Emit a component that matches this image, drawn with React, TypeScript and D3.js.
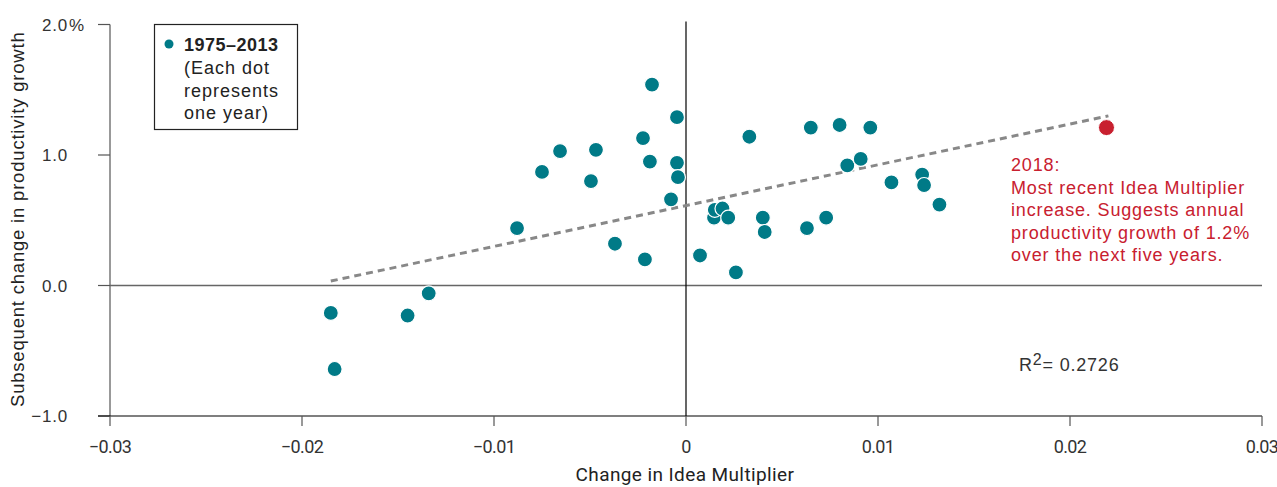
import React from 'react';
import * as d3 from 'd3';

// each dot = one year, 1975–2013
const ideaChange = [
  -0.0185, -0.0183, -0.0145, -0.0134, -0.0088, -0.0075, -0.00656, -0.00495, -0.00469, -0.0037,
  -0.00224, -0.00214, -0.00188, -0.00177, -0.00078, -0.00047, -0.00042, -0.00047, 0.00073, 0.00146,
  0.0015, 0.0019, 0.0022, 0.0026, 0.0033, 0.004, 0.0041, 0.0063, 0.0065, 0.0073,
  0.008, 0.0084, 0.0091, 0.0096, 0.0107, 0.0123, 0.0124, 0.0132,
];
const growthChange = [
  -0.21, -0.64, -0.23, -0.06, 0.44, 0.87, 1.03, 0.8, 1.04, 0.32,
  1.13, 0.2, 0.95, 1.54, 0.66, 0.94, 0.83, 1.29, 0.23, 0.52,
  0.58, 0.59, 0.52, 0.1, 1.14, 0.52, 0.41, 0.44, 1.21, 0.52,
  1.23, 0.92, 0.97, 1.21, 0.79, 0.85, 0.77, 0.62,
];
const latest = { x: 0.0219, y: 1.21 }; // 2018
const trendLine = [
  { x: -0.0185, y: 0.034 },
  { x: 0.022, y: 1.3 },
];

const xTicks = [-0.03, -0.02, -0.01, 0, 0.01, 0.02, 0.03];
const xTickLabels = ['\u22120.03', '\u22120.02', '\u22120.01', '0', '0.01', '0.02', '0.03'];
const yTicks = [2, 1, 0, -1];
const yTickLabels = ['2.0', '1.0', '0.0', '\u22121.0'];

const noteLines = [
  '2018:',
  'Most recent Idea Multiplier',
  'increase. Suggests annual',
  'productivity growth of 1.2%',
  'over the next five years.',
];
const legendLines = ['(Each dot', 'represents', 'one year)'];

const TEAL = '#007a87';
const RED = '#c8202f';
const FONT = '"Liberation Sans", Arial, sans-serif';
const COND = 'Roboto, sans-serif';

export default function App() {
  const width = 1277;
  const height = 487;
  const x = d3.scaleLinear().domain([-0.03, 0.03]).range([110, 1262]);
  const y = d3.scaleLinear().domain([-1, 2]).range([416, 24.5]);

  const points = ideaChange.map((v, i) => ({ x: v, y: growthChange[i] }));
  const line = d3
    .line<{ x: number; y: number }>()
    .x(d => x(d.x))
    .y(d => y(d.y));

  return (
    <svg width={width} height={height} style={{ position: 'absolute', left: 0, top: 0 }} fontFamily={FONT}>
      <rect width={width} height={height} fill="#fff" />

      {/* y axis */}
      <line x1={x(-0.03)} x2={x(-0.03)} y1={y(2)} y2={y(-1)} stroke="#777" strokeWidth={1.5} />
      {yTicks.map((t, i) => (
        <g key={t}>
          <line x1={x(-0.03) - 12} x2={x(-0.03)} y1={y(t)} y2={y(t)} stroke="#555" strokeWidth={1.2} />
          <text x={68} y={y(t) + 6} textAnchor="end" fontSize={17} fill="#333" letterSpacing={0.8}>
            {yTickLabels[i]}
          </text>
          {i === 0 && (
            <text x={69} y={y(t) + 6} fontSize={17} fill="#333">
              %
            </text>
          )}
        </g>
      ))}

      {/* zero lines */}
      <line x1={x(-0.03)} x2={x(0.03)} y1={y(0)} y2={y(0)} stroke="#666" strokeWidth={1.5} />
      <line x1={x(0)} x2={x(0)} y1={y(2) - 3} y2={y(-1)} stroke="#000" strokeWidth={1.2} />

      {/* x axis */}
      <line x1={x(-0.03) - 12} x2={x(0.03)} y1={y(-1)} y2={y(-1)} stroke="#000" strokeWidth={1.2} />
      {xTicks.map((t, i) => (
        <g key={t}>
          <line x1={x(t)} x2={x(t)} y1={y(-1)} y2={y(-1) + 10} stroke="#555" strokeWidth={1.2} />
          <text x={x(t)} y={453} textAnchor="middle" fontSize={18} fill="#333" fontFamily={COND} letterSpacing={-0.6}>
            {xTickLabels[i]}
          </text>
        </g>
      ))}

      <text x={685} y={481} textAnchor="middle" fontSize={19} fill="#222" fontFamily={COND} letterSpacing={0.4}>
        Change in Idea Multiplier
      </text>
      <text
        transform={`translate(24,${y(0.5) - 1}) rotate(-90)`}
        textAnchor="middle"
        fontSize={18.5}
        fill="#222"
        letterSpacing={0.8}
      >
        Subsequent change in productivity growth
      </text>

      {/* trend */}
      <path d={line(trendLine) ?? ''} fill="none" stroke="#888" strokeWidth={3} strokeDasharray="7,5" />

      {points.map((p, i) => (
        <circle key={i} cx={x(p.x)} cy={y(p.y)} r={7.5} fill={TEAL} stroke="#fff" strokeWidth={1.2} />
      ))}
      <circle cx={x(latest.x)} cy={y(latest.y)} r={8} fill={RED} stroke="#fff" strokeWidth={1} />

      {/* note */}
      {noteLines.map((s, i) => (
        <text key={s} x={1011} y={171 + i * 22.6} fontSize={18} fill={RED} letterSpacing={0.85}>
          {s}
        </text>
      ))}

      <text x={1019} y={371} fontSize={18} fill="#333" letterSpacing={0.8}>
        R
        <tspan dy={-6} fontSize={16}>2</tspan>
        <tspan dy={6}>= 0.2726</tspan>
      </text>

      {/* legend */}
      <rect x={154.5} y={24.5} width={143} height={105} fill="#fff" stroke="#222" strokeWidth={1.2} />
      <circle cx={169} cy={44} r={4.5} fill={TEAL} />
      <text x={184} y={51} fontSize={18} fontWeight={700} fill="#222" letterSpacing={0.5}>
        1975–2013
      </text>
      {legendLines.map((s, i) => (
        <text key={s} x={184} y={74 + i * 22.6} fontSize={18} fill="#222" letterSpacing={1}>
          {s}
        </text>
      ))}
    </svg>
  );
}
